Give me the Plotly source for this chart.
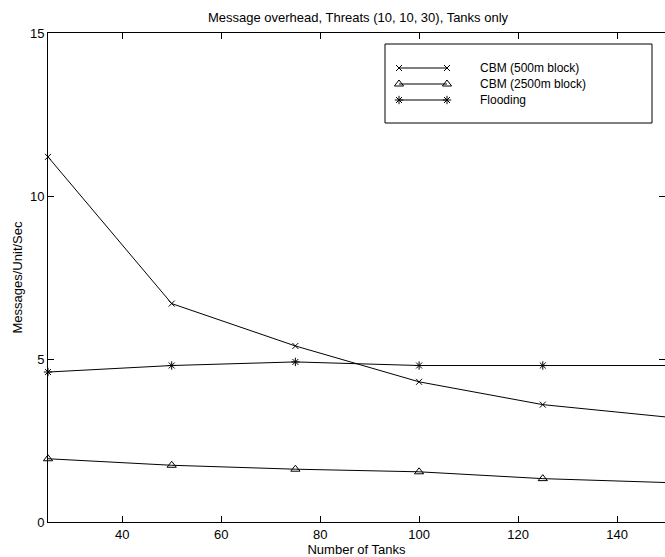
import plotly.graph_objects as go

tanks = [25, 50, 75, 100, 125, 150]
cbm_500 = [11.2, 6.7, 5.4, 4.3, 3.6, 3.22]
cbm_2500 = [1.94, 1.74, 1.62, 1.54, 1.33, 1.21]
flooding = [4.6, 4.8, 4.91, 4.8, 4.8, 4.8]

series_names = ["CBM (500m block)", "CBM (2500m block)", "Flooding"]
series_values = [cbm_500, cbm_2500, flooding]
symbols = ["x-thin-open", "triangle-up-open", "asterisk-open"]
sizes = [6, 8, 7]

x_ticks = [40, 60, 80, 100, 120, 140]
y_ticks = [0, 5, 10, 15]

FONT = "Liberation Sans, Arial, sans-serif"
FS = 13
LEG_FS = 12

fig = go.Figure()
for name, vals, sym, sz in zip(series_names, series_values, symbols, sizes):
    fig.add_trace(go.Scatter(
        x=tanks, y=vals, mode="lines+markers", name=name,
        line=dict(color="black", width=1),
        marker=dict(symbol=sym, size=sz, color="black", line=dict(color="black", width=1)),
        showlegend=False, cliponaxis=False,
    ))

# custom legend drawn in a pixel-space overlay
L_LEFT, L_RIGHT, L_TOP, L_BOTTOM = 385, 652, 44, 123
row_y = [68, 84, 100]
sample_x0, sample_x1, text_x = 399, 447, 478
for name, sym, sz, ry in zip(series_names, symbols, sizes, row_y):
    fig.add_trace(go.Scatter(
        x=[sample_x0, sample_x1], y=[ry, ry], xaxis="x2", yaxis="y2",
        mode="lines+markers", showlegend=False, hoverinfo="skip",
        line=dict(color="black", width=1),
        marker=dict(symbol=sym, size=sz, color="black", line=dict(color="black", width=1)),
    ))
    fig.add_annotation(x=text_x, y=ry, xref="x2", yref="y2", text=name,
                       showarrow=False, xanchor="left", yanchor="middle",
                       font=dict(family=FONT, size=LEG_FS, color="black"))
fig.add_shape(type="rect", xref="x2", yref="y2", x0=L_LEFT, x1=L_RIGHT, y0=L_TOP, y1=L_BOTTOM,
              line=dict(color="black", width=1), fillcolor="rgba(0,0,0,0)", layer="above")

axis_common = dict(
    showgrid=False, zeroline=False, showline=True, linecolor="black", linewidth=1,
    mirror="ticks", ticks="inside", ticklen=6, tickwidth=1, tickcolor="black",
    tickfont=dict(family=FONT, size=FS, color="black"), automargin=False,
)

fig.update_layout(
    width=665, height=557,
    margin=dict(l=48, r=0, t=33, b=35),
    paper_bgcolor="white", plot_bgcolor="white",
    font=dict(family=FONT, size=FS, color="black"),
    title=dict(text="Message overhead, Threats (10, 10, 30), Tanks only",
               x=358 / 665, xanchor="center", y=1 - 17 / 557, yanchor="middle",
               font=dict(family=FONT, size=FS, color="black")),
    xaxis=dict(range=[25, 149.7], tickvals=x_ticks, **axis_common,
               title=dict(text="Number of Tanks", standoff=8,
                          font=dict(family=FONT, size=FS, color="black"))),
    yaxis=dict(range=[0, 15], tickvals=y_ticks, **axis_common,
               title=dict(text="Messages/Unit/Sec", standoff=4,
                          font=dict(family=FONT, size=FS, color="black"))),
    xaxis2=dict(overlaying="x", range=[48, 665], visible=False, fixedrange=True),
    yaxis2=dict(overlaying="y", range=[522, 33], visible=False, fixedrange=True),
    showlegend=False,
)

fig.write_html(
    "out.html",
    config={"displayModeBar": False},
    post_script="document.body.style.margin='0';document.body.style.overflow='hidden';",
)
